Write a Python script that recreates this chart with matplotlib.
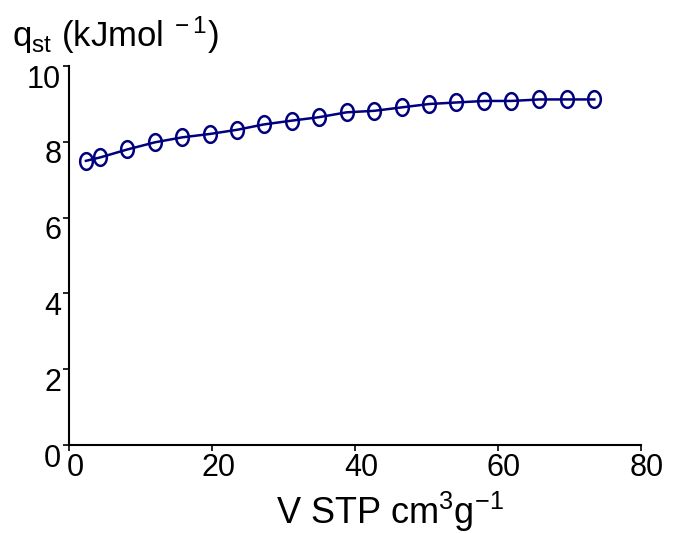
import matplotlib
matplotlib.use("Agg")
import matplotlib.pyplot as plt
import matplotlib.transforms as mtransforms
from matplotlib.path import Path
import numpy as np

plt.rcParams['font.family'] = ['Liberation Sans', 'DejaVu Sans']
plt.rcParams['mathtext.fontset'] = 'custom'
plt.rcParams['mathtext.rm'] = 'Liberation Sans'
plt.rcParams['mathtext.it'] = 'Liberation Sans'

volume = [2.3, 4.3, 8.1, 12.0, 15.8, 19.7, 23.5, 27.2, 31.1, 34.9,
          38.8, 42.7, 46.5, 50.4, 54.2, 58.1, 61.9, 65.8, 69.7, 73.5]
qst = [7.50, 7.59, 7.80, 7.99, 8.12, 8.21, 8.32, 8.46, 8.56, 8.65,
       8.78, 8.82, 8.91, 9.00, 9.04, 9.08, 9.08, 9.12, 9.12, 9.12]
xticks = [0, 20, 40, 60, 80]
yticks = [0, 2, 4, 6, 8, 10]

# ellipse marker (taller than wide)
t = np.linspace(0, 2 * np.pi, 60)
verts = np.column_stack([0.76 * np.cos(t), np.sin(t)])
ell = Path(verts, closed=True)

fig = plt.figure(figsize=(6.76, 5.33), dpi=100)
ax = fig.add_axes([0.1028, 0.165, 0.845, 0.711])
color = '#00007F'
ax.plot(volume, qst, '-', color=color, lw=1.8, marker=ell, ms=12.0,
        mfc='none', mec=color, mew=1.8)

ax.set_xlim(0, 80)
ax.set_ylim(0, 10)
ax.set_xticks(xticks)
ax.set_yticks(yticks)
for s in ['top', 'right']:
    ax.spines[s].set_visible(False)
for s in ['left', 'bottom']:
    ax.spines[s].set_linewidth(1.5)
ax.tick_params(direction='out', length=4, width=1.2, labelsize=22, pad=2)

# offsets of tick labels as in reference
for lab in ax.get_yticklabels():
    lab.set_transform(lab.get_transform() + mtransforms.ScaledTranslation(0, -10 / 100, fig.dpi_scale_trans))
for lab in ax.get_xticklabels():
    lab.set_transform(lab.get_transform() + mtransforms.ScaledTranslation(6 / 100, 0, fig.dpi_scale_trans))

fig.text(390 / 676, 1 - 512 / 533, r'V STP cm$^{\mathregular{3}}$g$^{\mathregular{-1}}$',
         fontsize=26, ha='center', va='center')
fig.text(12 / 676, 1 - 35 / 533, r'q$_{\mathregular{st}}$ (kJmol$^{\mathregular{\ -1}}$)',
         fontsize=25, ha='left', va='center')

fig.savefig('out.png', dpi=100)
